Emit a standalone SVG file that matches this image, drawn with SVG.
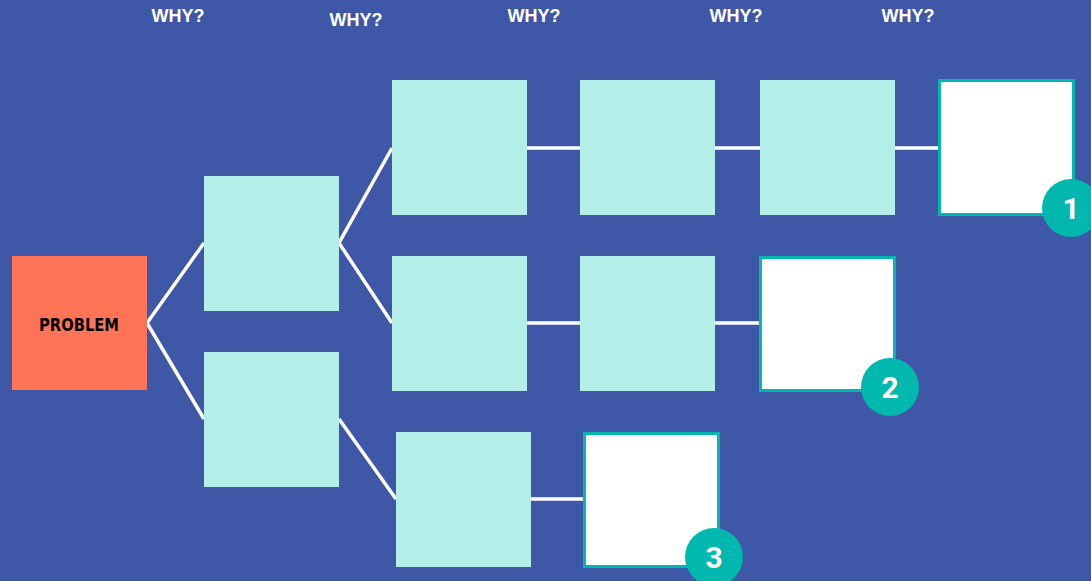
<svg xmlns="http://www.w3.org/2000/svg" width="1091" height="581" viewBox="0 0 1091 581">
<style>
.why{font-family:"Liberation Sans",Arial,sans-serif;font-weight:bold;font-size:18px;fill:#fff;text-anchor:middle}
.box{fill:#B3EEE8}
.end{fill:#fff;stroke:#00B8AE;stroke-width:3}
.badge{fill:#00B8AE}
.num{font-family:"Roboto","Liberation Sans",sans-serif;font-weight:bold;font-size:30px;fill:#fff;text-anchor:middle}
.c{stroke:#fff;stroke-width:3.5;fill:none}
</style>
<rect x="0" y="0" width="1091" height="581" fill="#3F57A7"/>
<g id="labels">
<text class="why" x="178" y="22">WHY?</text>
<text class="why" x="356" y="26">WHY?</text>
<text class="why" x="534" y="22">WHY?</text>
<text class="why" x="736" y="22">WHY?</text>
<text class="why" x="908" y="22">WHY?</text>
</g>
<g id="connectors">
<polyline class="c" points="204,243 147,323 204,419"/>
<polyline class="c" points="392,148 339,243 392,323"/>
<line class="c" x1="339" y1="419" x2="396" y2="499"/>
<line class="c" x1="527" y1="148" x2="580" y2="148"/>
<line class="c" x1="715" y1="148" x2="760" y2="148"/>
<line class="c" x1="895" y1="148" x2="940" y2="148"/>
<line class="c" x1="527" y1="323" x2="580" y2="323"/>
<line class="c" x1="715" y1="323" x2="760" y2="323"/>
<line class="c" x1="531" y1="499" x2="585" y2="499"/>
</g>
<g id="problem">
<rect x="12" y="256" width="135" height="134" fill="#FF7456"/>
<text x="79" y="331" font-family="'DejaVu Sans',sans-serif" font-weight="bold" font-size="18" text-anchor="middle" textLength="80" lengthAdjust="spacingAndGlyphs" fill="#000">PROBLEM</text>
</g>
<g id="n2a"><rect class="box" x="204" y="176" width="135" height="135"/></g>
<g id="n2b"><rect class="box" x="204" y="352" width="135" height="135"/></g>
<g id="n3a"><rect class="box" x="392" y="80" width="135" height="135"/></g>
<g id="n3b"><rect class="box" x="392" y="256" width="135" height="135"/></g>
<g id="n3c"><rect class="box" x="396" y="432" width="135" height="135"/></g>
<g id="n4a"><rect class="box" x="580" y="80" width="135" height="135"/></g>
<g id="n4b"><rect class="box" x="580" y="256" width="135" height="135"/></g>
<g id="n5a"><rect class="box" x="760" y="80" width="135" height="135"/></g>
<g id="end1">
<rect class="end" x="939.5" y="80.5" width="134" height="134"/>
<circle class="badge" cx="1071" cy="208" r="29"/>
<text class="num" x="1071" y="219">1</text>
</g>
<g id="end2">
<rect class="end" x="760.5" y="257.5" width="134" height="133"/>
<circle class="badge" cx="890" cy="387" r="29"/>
<text class="num" x="890" y="398">2</text>
</g>
<g id="end3">
<rect class="end" x="584.5" y="433.5" width="134" height="133"/>
<circle class="badge" cx="714" cy="557" r="29"/>
<text class="num" x="714" y="568">3</text>
</g>
</svg>
